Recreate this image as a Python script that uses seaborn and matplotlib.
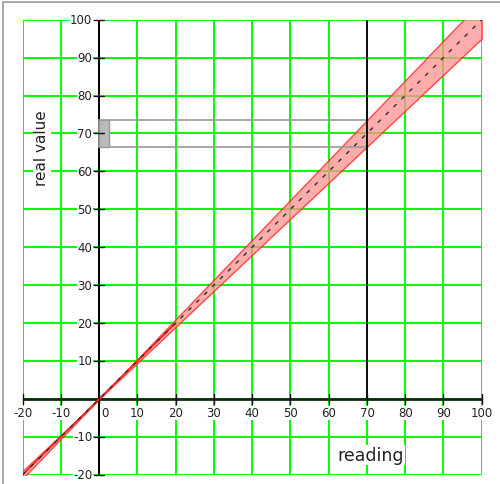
import matplotlib
matplotlib.use("Agg")
import matplotlib.pyplot as plt
import seaborn as sns
import pandas as pd
from matplotlib.patches import Rectangle

sns.set_theme(style="white")
plt.rcParams['font.family'] = ['DejaVu Sans']

# data
reading = [-20, -10, 0, 10, 20, 30, 40, 50, 60, 70, 80, 90, 100]
real_value = [-20, -10, 0, 10, 20, 30, 40, 50, 60, 70, 80, 90, 100]
half_width = [1.0, 0.5, 0.0, 0.5, 1.0, 1.5, 2.0, 2.5, 3.0, 3.5, 4.0, 4.5, 5.0]
ticks = [-20, -10, 0, 10, 20, 30, 40, 50, 60, 70, 80, 90, 100]
sel_reading = 70
sel_low, sel_high = 66.5, 73.5

df = pd.DataFrame({"reading": reading, "real": real_value, "hw": half_width})
df["lo"] = df["real"] - df["hw"]
df["hi"] = df["real"] + df["hw"]

fig = plt.figure(figsize=(5.0, 4.85), dpi=100)
ax = fig.add_axes([22.7 / 500, 1 - 475.7 / 485, 459 / 500, 455 / 485])
ax.set_xlim(-20, 100)
ax.set_ylim(-20, 100)

# green grid
for t in ticks:
    ax.axvline(t, color="#00ff00", lw=1.4, zorder=1)
    ax.axhline(t, color="#00ff00", lw=1.4, zorder=1)

# band
ax.fill_between(df["reading"], df["lo"], df["hi"], color="#ff9090", alpha=0.75,
                edgecolor="#ff1a1a", lw=1.0, zorder=3)
ax.plot([-20, 20], [-20, 20], color="#ff2020", lw=1.2, zorder=3)
sns.lineplot(data=df, x="reading", y="real", ax=ax, color="#303030", lw=1.0,
             linestyle=(0, (3, 5)), zorder=4)

# selection box
ax.add_patch(Rectangle((0, sel_low), sel_reading, sel_high - sel_low, fill=False,
                       edgecolor="#999999", lw=1.2, zorder=5))
ax.add_patch(Rectangle((0, sel_low), 2.6, sel_high - sel_low, facecolor="#bbbbbb",
                       edgecolor="#999999", lw=1.0, zorder=5))
ax.plot([sel_reading, sel_reading], [0, 100], color="#000000", lw=1.3, zorder=5)

# axes through origin
ax.axhline(0, color="#102a10", lw=2.0, zorder=2)
ax.axvline(0, color="#000000", lw=1.4, zorder=2)
for s in ax.spines.values():
    s.set_visible(False)
ax.set_xticks([])
ax.set_yticks([])
ax.set_xlabel("")
ax.set_ylabel("")

tk = 1.3
for t in ticks:
    ax.plot([t, t], [-tk, tk], color="#111111", lw=1.0, zorder=6, clip_on=False)
    ax.text(t + (1.6 if t == 0 else 0), -2.0, str(t), ha="center", va="top",
            fontsize=8.5, color="#222222", zorder=7,
            bbox=dict(facecolor="white", edgecolor="none", pad=0.2))
    if t != 0:
        ax.plot([-tk, tk], [t, t], color="#111111", lw=1.0, zorder=6, clip_on=False)
        ax.text(-1.8, t, str(t), ha="right", va="center", fontsize=8.5,
                color="#222222", zorder=7,
                bbox=dict(facecolor="white", edgecolor="none", pad=0.2))

ax.text(71, -14.8, "reading", ha="center", va="center", fontsize=12.5,
        color="#222222", zorder=7,
        bbox=dict(facecolor="white", edgecolor="none", pad=1))
ax.text(-15, 66.5, "real value", ha="center", va="center", rotation=90,
        fontsize=11, color="#222222", zorder=7,
        bbox=dict(facecolor="white", edgecolor="none", pad=1))

# figure border (left and top)
fig.add_artist(plt.Line2D([2.7 / 500, 2.7 / 500], [0, 1 - 3.3 / 485],
                          color="#999999", lw=1.2, transform=fig.transFigure))
fig.add_artist(plt.Line2D([2.7 / 500, 1], [1 - 3.3 / 485, 1 - 3.3 / 485],
                          color="#999999", lw=1.2, transform=fig.transFigure))

fig.savefig("out.png", dpi=100)
